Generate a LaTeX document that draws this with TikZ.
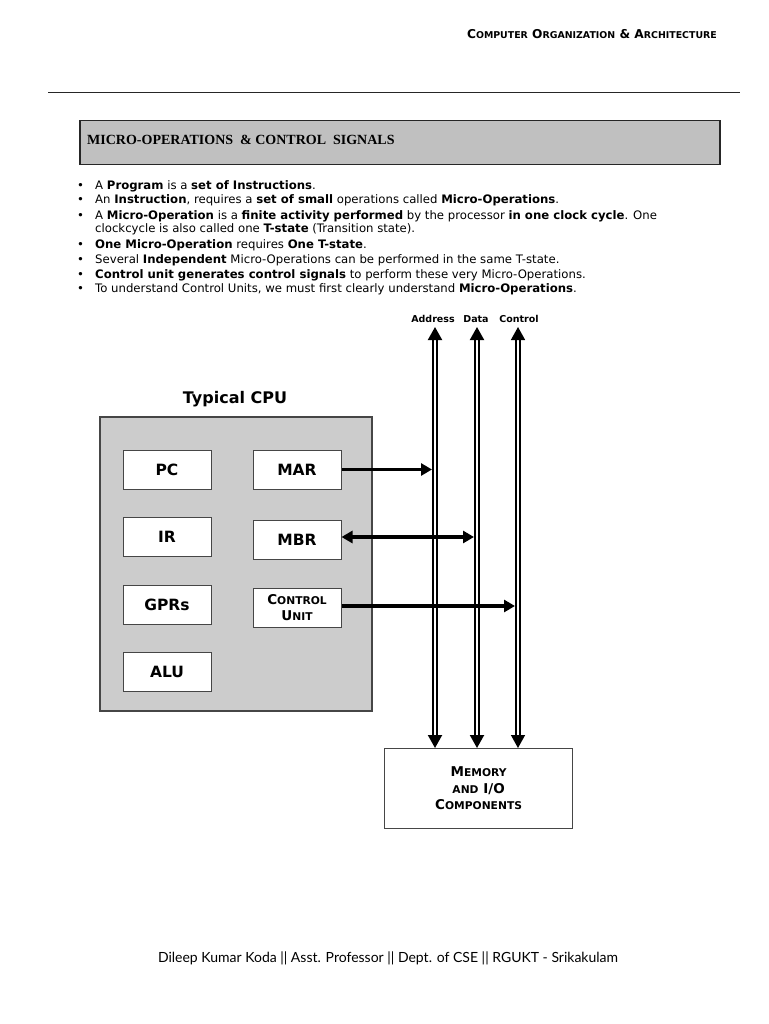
\documentclass[tikz,border=0pt]{standalone}
\usepackage{fontspec}
\setmainfont{DejaVu Sans}
\newfontfamily\titlefont{Liberation Serif}
\newfontfamily\footfont{Lato}
\usetikzlibrary{arrows.meta}
\definecolor{titlegray}{RGB}{192,192,192}
\definecolor{cpugray}{RGB}{204,204,204}
\definecolor{edgegray}{RGB}{70,70,70}
\newcommand{\hsc}[1]{{\fontsize{9.4}{10}\selectfont #1}}
\newcommand{\bsc}[1]{{\fontsize{10.7}{11}\selectfont #1}}
\tikzset{
  regbox/.style={draw=edgegray, line width=1pt, fill=white, minimum width=88pt, minimum height=39pt, font=\fontsize{15.5}{17}\selectfont\bfseries, inner sep=0pt},
  bulletline/.style={anchor=base west, inner sep=0pt, font=\fontsize{11.7}{13}\selectfont},
  bus/.style={double=white, line width=2pt, double distance=2pt, {Triangle[width=14pt,length=13pt]}-{Triangle[width=14pt,length=13pt]}},
  thinbus/.style={double=white, line width=1.5pt, double distance=2.5pt, {Triangle[width=14pt,length=13pt]}-{Triangle[width=14pt,length=13pt]}},
  link/.style={line width=3.5pt, -{Triangle[width=12pt,length=11pt]}},
  duallink/.style={line width=3.5pt, {Triangle[width=12pt,length=11pt]}-{Triangle[width=12pt,length=11pt]}},
  buslabel/.style={font=\fontsize{9.5}{10}\selectfont\bfseries, inner sep=0pt}
}
\begin{document}
\begin{tikzpicture}[x=1pt,y=-1pt]
\fill[white] (0,0) rectangle (768,1024);
\useasboundingbox (0,0) rectangle (768,1024);

% header
\node[anchor=base east, inner sep=0pt, font=\fontsize{12.2}{13}\selectfont\bfseries] (hdr) at (717,39)
  {C\hsc{OMPUTER} O\hsc{RGANIZATION} \& A\hsc{RCHITECTURE}};
\coordinate (ruleL) at (48,93);
\coordinate (ruleR) at (740,93);
\draw[line width=1pt, black!85] (ruleL) -- (ruleR);

% title box
\node[draw=black!85, line width=1.5pt, fill=titlegray, minimum width=640pt, minimum height=44pt, anchor=north west, inner sep=0pt] (titlebox) at (79,120) {};
\node[anchor=west, inner sep=0pt, font=\titlefont\fontsize{14}{16}\selectfont\bfseries] (titletext) at (87,140)
  {MICRO-OPERATIONS \ \& CONTROL \ SIGNALS};

% bullets
\foreach \yy/\nm in {190/b1,204/b2,219/b3,248/b5,263/b6,278/b7,292/b8}
  \node[bulletline] (dot\nm) at (77,\yy) {•};
\node[bulletline] (b1) at (95,190) {A \textbf{Program} is a \textbf{set of Instructions}.};
\node[bulletline] (b2) at (95,204) {An \textbf{Instruction}, requires a \textbf{set of small} operations called \textbf{Micro-Operations}.};
\node[bulletline] (b3) at (95,219) {A \textbf{Micro-Operation} is a \textbf{finite activity performed} by the processor \textbf{in one clock cycle}. One};
\node[bulletline] (b4) at (95,233) {clockcycle is also called one \textbf{T-state} (Transition state).};
\node[bulletline] (b5) at (95,248) {\textbf{One Micro-Operation} requires \textbf{One T-state}.};
\node[bulletline] (b6) at (95,263) {Several \textbf{Independent} Micro-Operations can be performed in the same T-state.};
\node[bulletline] (b7) at (95,278) {\textbf{Control unit generates control signals} to perform these very Micro-Operations.};
\node[bulletline] (b8) at (95,292) {To understand Control Units, we must first clearly understand \textbf{Micro-Operations}.};

% bus labels
\node[buslabel] (laddr) at (433,319) {Address};
\node[buslabel] (ldata) at (476,319) {Data};
\node[buslabel] (lctrl) at (519,319) {Control};

% CPU
\node[font=\fontsize{16}{18}\selectfont\bfseries, inner sep=0pt] (cputitle) at (235,399) {Typical CPU};
\node[draw=edgegray, line width=1.5pt, fill=cpugray, minimum width=272pt, minimum height=294pt, anchor=north west, inner sep=0pt] (cpu) at (99,416) {};
\node[regbox] (pc) at (167,469.5) {PC};
\node[regbox] (mar) at (297,469.5) {MAR};
\node[regbox] (ir) at (167,536.5) {IR};
\node[regbox] (mbr) at (297,539.5) {MBR};
\node[regbox] (gprs) at (167,604.5) {GPRs};
\node[regbox, align=center, font=\fontsize{13.5}{16}\selectfont\bfseries] (cu) at (297,607.5) {C\bsc{ONTROL}\\U\bsc{NIT}};
\node[regbox] (alu) at (167,671.5) {ALU};

% memory
\node[draw=edgegray, line width=1.2pt, fill=white, minimum width=188pt, minimum height=80pt, anchor=north west, inner sep=0pt, align=center, font=\fontsize{13.5}{16.5}\selectfont\bfseries] (mem) at (384,748)
  {M\bsc{EMORY}\\\bsc{AND} I/O\\C\bsc{OMPONENTS}};

% buses
\coordinate (atop) at (435,327);
\coordinate (dtop) at (477,327);
\coordinate (ctop) at (518,327);
\coordinate (abot) at (435,748);
\coordinate (dbot) at (477,748);
\coordinate (cbot) at (518,748);
\draw[bus] (atop) -- (abot);
\draw[bus] (dtop) -- (dbot);
\draw[thinbus] (ctop) -- (cbot);

% links
\coordinate (amar) at (432,469.5);
\coordinate (dmbr) at (474,537);
\coordinate (ccu) at (515,606);
\draw[link] (mar.east) -- (amar);
\draw[duallink] (mbr.east |- dmbr) -- (dmbr);
\draw[link] (cu.east |- ccu) -- (ccu);

% footer
\node[font=\footfont\fontsize{14}{16}\selectfont, inner sep=0pt] (footer) at (388,958)
  {Dileep Kumar Koda || Asst. Professor || Dept. of CSE || RGUKT - Srikakulam};
\end{tikzpicture}
\end{document}
